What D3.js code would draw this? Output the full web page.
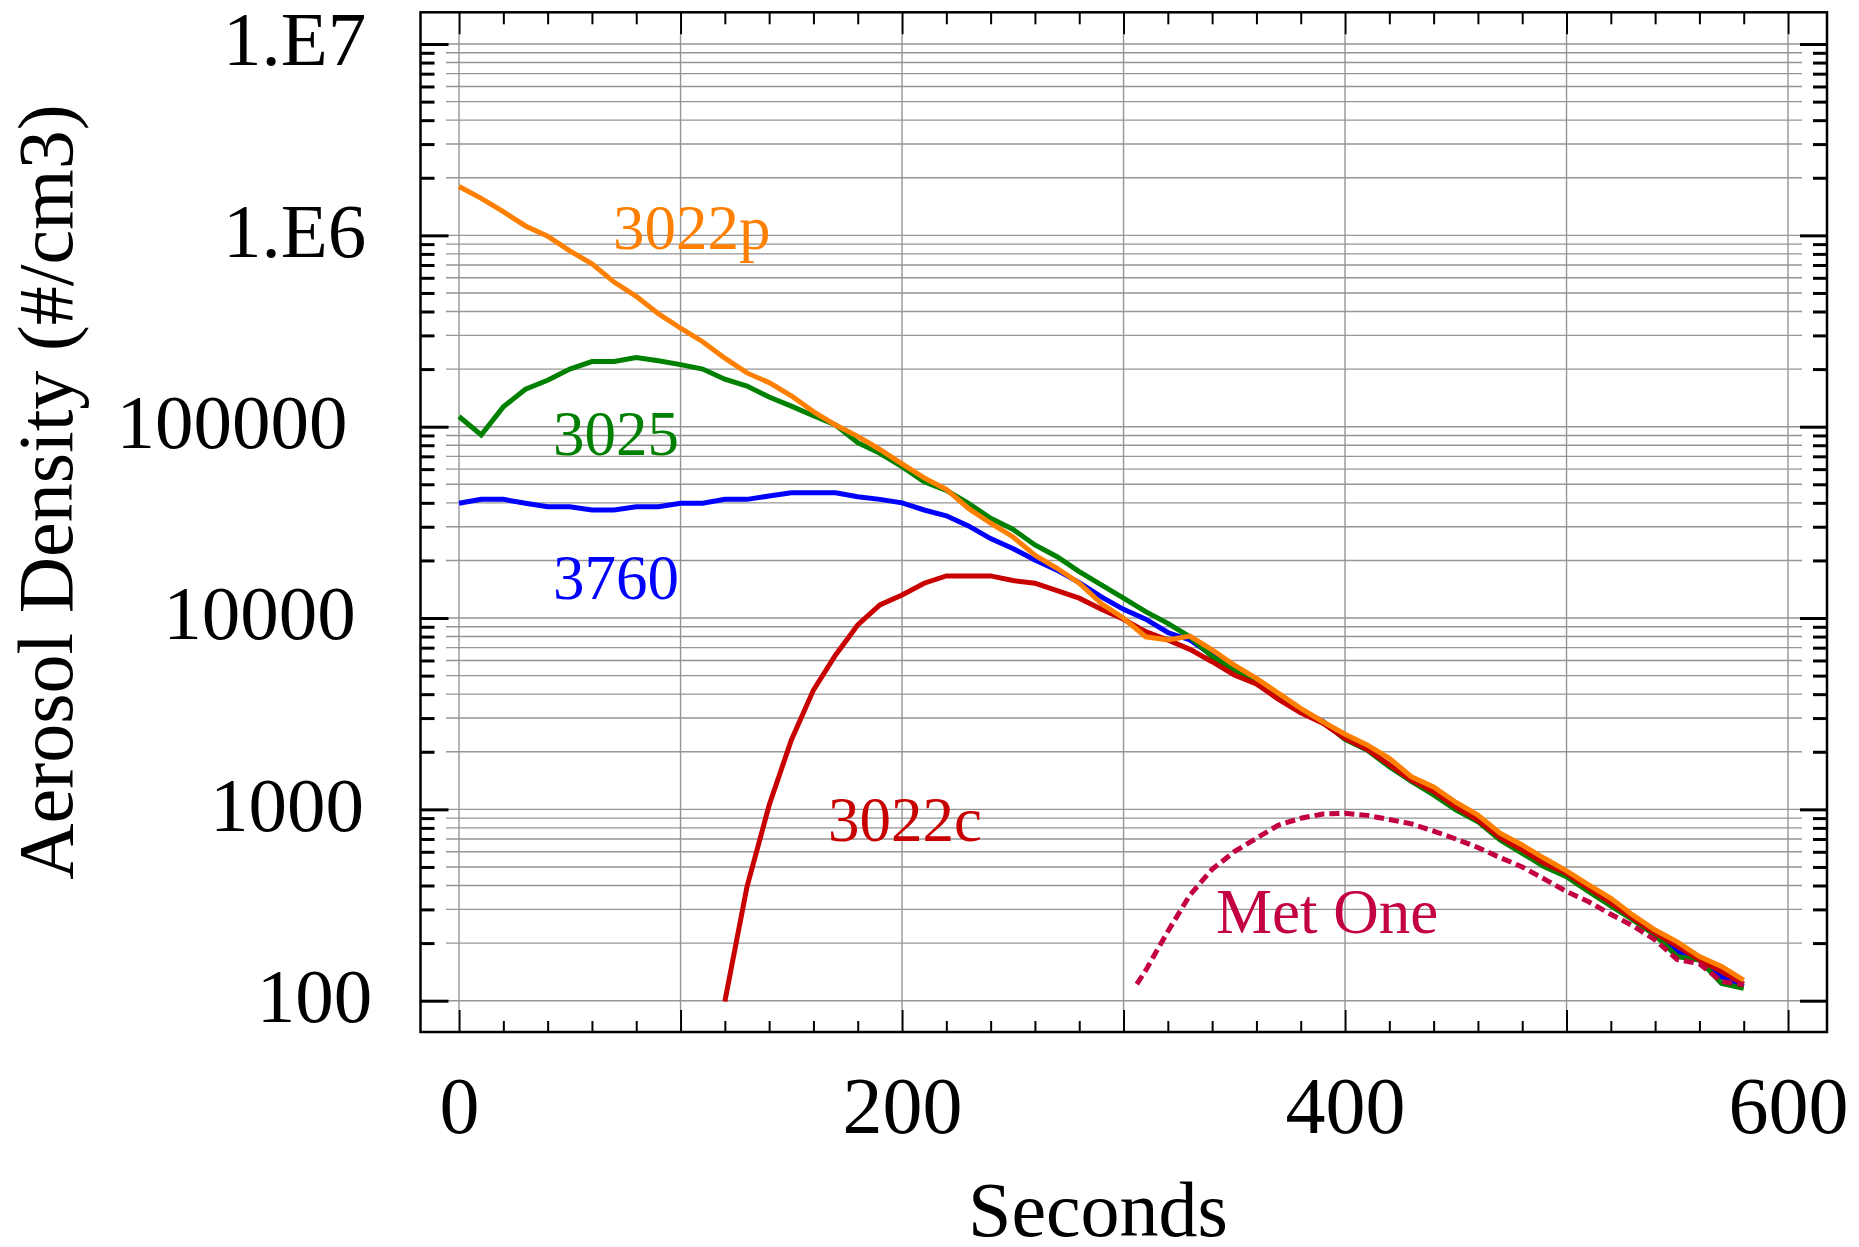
<!DOCTYPE html>
<html>
<head>
<meta charset="utf-8">
<script src="https://cdn.jsdelivr.net/npm/d3@7"></script>
<style>
  body { margin: 0; background: #fff; }
  svg { display: block; font-family: "Liberation Serif", "Times New Roman", serif; }
</style>
</head>
<body>
<div id="canvas"></div>
<script>
var seconds = [0, 10, 20, 30, 40, 50, 60, 70, 80, 90, 100, 110, 120, 130, 140, 150, 160, 170, 180, 190,
               200, 210, 220, 230, 240, 250, 260, 270, 280, 290, 300, 310, 320, 330, 340, 350, 360, 370, 380, 390,
               400, 410, 420, 430, 440, 450, 460, 470, 480, 490, 500, 510, 520, 530, 540, 550, 560, 570, 580];

var density3022p = [1.80e6, 1.56e6, 1.33e6, 1.12e6, 9.9e5, 8.3e5, 7.1e5, 5.7e5, 4.8e5, 3.9e5,
                    3.27e5, 2.78e5, 2.28e5, 1.91e5, 1.70e5, 1.45e5, 1.20e5, 1.02e5, 8.9e4, 7.6e4,
                    6.4e4, 5.4e4, 4.7e4, 3.74e4, 3.13e4, 2.66e4, 2.13e4, 1.82e4, 1.52e4, 1.19e4,
                    9970, 7980, 7680, 8050, 6810, 5680, 4840, 4040, 3370, 2870,
                    2470, 2170, 1850, 1480, 1310, 1090, 934, 750, 651, 555,
                    477, 403, 343, 280, 234, 203, 170, 151, 128];

var density3025 = [1.13e5, 9.05e4, 1.27e5, 1.57e5, 1.75e5, 2.0e5, 2.19e5, 2.19e5, 2.30e5, 2.21e5,
                   2.11e5, 2.0e5, 1.77e5, 1.63e5, 1.43e5, 1.28e5, 1.14e5, 1.02e5, 8.25e4, 7.26e4,
                   6.18e4, 5.16e4, 4.65e4, 3.98e4, 3.32e4, 2.91e4, 2.41e4, 2.09e4, 1.75e4, 1.49e4,
                   1.27e4, 1.08e4, 9380, 7980, 6280, 5350, 4740, 3880, 3300, 2870,
                   2320, 2040, 1670, 1400, 1190, 993, 862, 692, 589, 501,
                   445, 371, 313, 264, 220, 170, 163, 123, 116];

var density3760 = [3.98e4, 4.17e4, 4.17e4, 3.98e4, 3.82e4, 3.82e4, 3.67e4, 3.67e4, 3.82e4, 3.82e4,
                   3.98e4, 3.98e4, 4.17e4, 4.17e4, 4.34e4, 4.52e4, 4.52e4, 4.52e4, 4.30e4, 4.17e4,
                   4.0e4, 3.67e4, 3.42e4, 3.03e4, 2.6e4, 2.31e4, 2.01e4, 1.78e4, 1.53e4, 1.29e4,
                   1.11e4, 9870, 8400, 7680, 6400, 5400, 4750, 3900, 3320, 2880,
                   2340, 2050, 1680, 1410, 1200, 1000, 870, 700, 595, 505,
                   454, 379, 323, 266, 223, 180, 163, 133, 119];

var seconds3022c = [120, 130, 140, 150, 160, 170, 180, 190, 200, 210, 220, 230, 240, 250, 260, 270, 280, 290,
                    300, 310, 320, 330, 340, 350, 360, 370, 380, 390, 400, 410, 420, 430, 440, 450, 460, 470,
                    480, 490, 500, 510, 520, 530, 540, 550, 560, 570, 580];

var density3022c = [99, 394, 1050, 2300, 4200, 6410, 9200, 1.17e4, 1.32e4, 1.52e4, 1.66e4, 1.66e4, 1.66e4, 1.57e4,
                    1.52e4, 1.39e4, 1.27e4, 1.11e4, 9850, 8490, 7680, 6860, 5910, 5040, 4520, 3760, 3200, 2820,
                    2350, 2060, 1710, 1420, 1240, 1030, 880, 714, 614, 523, 463, 387, 325, 270, 226, 193,
                    164, 142, 122];

var secondsMetOne = [306, 310, 320, 330, 340, 350, 360, 370, 380, 390, 400, 410, 420, 430, 440, 450, 460, 470,
                     480, 490, 500, 510, 520, 530, 540, 550, 560, 570, 580];

var densityMetOne = [122, 144, 230, 357, 486, 601, 706, 828, 898, 946, 953, 930, 885, 840, 770, 700, 632, 560,
                     500, 432, 372, 329, 283, 246, 208, 164, 156, 126, 121];

var seriesNames = ['3760', '3025', '3022c', '3022p', 'Met One'];

var yTickValues = [100, 1000, 10000, 100000, 1000000, 10000000],
    yTickLabels = ['100', '1000', '10000', '100000', '1.E6', '1.E7'],
    xTickValues = [0, 200, 400, 600];

(function(d3){

  var margin = {top: 12.3, right: 32, bottom: 215, left: 420.5},
      canvas_d = {width: 1859, height: 1247},
      chart_d = {
        width: canvas_d.width - margin.left - margin.right,
        height: canvas_d.height - margin.top - margin.bottom
      },
      x = d3.scaleLinear().domain([-17.4, 617.6]).range([0, chart_d.width]),
      y = d3.scaleLog().domain([68.6, 1.465e7]).range([chart_d.height, 0]),
      canvas,
      chart;

  var series = [
    {name: seriesNames[0], xs: seconds,       ys: density3760,   color: '#0000ff'},
    {name: seriesNames[1], xs: seconds,       ys: density3025,   color: '#008000'},
    {name: seriesNames[2], xs: seconds3022c,  ys: density3022c,  color: '#c80000'},
    {name: seriesNames[3], xs: seconds,       ys: density3022p,  color: '#ff8000'},
    {name: seriesNames[4], xs: secondsMetOne, ys: densityMetOne, color: '#c20042', dash: '10,5'}
  ];

  // where the inline names sit (pixels inside the chart)
  var labelPos = {
    '3022p':   [192.5, 236.7],
    '3025':    [132.5, 442.7],
    '3760':    [132.5, 586.7],
    '3022c':   [407.5, 828.7],
    'Met One': [795.5, 920.7]
  };

  var yMinor = y.ticks().filter(function(d){ return d >= 100 && d <= 1e7 && yTickValues.indexOf(d) < 0; }),
      yAll = y.ticks().filter(function(d){ return d >= 100 && d <= 1e7; }),
      xMinor = d3.range(0, 601, 20).filter(function(d){ return d % 100 !== 0; }),
      xMajor = [0, 100, 200, 300, 400, 500, 600];


  /**
   * Draw canvas.
   */
  canvas = d3.select('#canvas').append('svg')
      .attr('width', canvas_d.width)
      .attr('height', canvas_d.height);

  chart = canvas.append('g')
      .attr('transform', 'translate(' + margin.left + ',' + margin.top + ')');


  /**
   * Grid.
   */
  chart.append('g').selectAll('line')
      .data(yAll)
    .enter().append('line')
      .attr('x1', 25.5).attr('x2', chart_d.width - 25)
      .attr('y1', function(d){ return y(d); })
      .attr('y2', function(d){ return y(d); })
      .attr('stroke', '#959595')
      .attr('stroke-width', 1.4);

  chart.append('g').selectAll('line')
      .data(xMajor)
    .enter().append('line')
      .attr('y1', 22).attr('y2', chart_d.height - 22)
      .attr('x1', function(d){ return x(d); })
      .attr('x2', function(d){ return x(d); })
      .attr('stroke', '#959595')
      .attr('stroke-width', 1.4);


  /**
   * Axes (ticks point inward on all four sides).
   */
  function styleAxis(g, w) {
    g.select('.domain').remove();
    g.selectAll('line').attr('stroke', '#000').attr('stroke-width', w);
    g.selectAll('text').attr('fill', '#000');
  }

  var yAxisG = chart.append('g')
      .call(d3.axisLeft(y).tickValues(yTickValues).tickSize(-28).tickPadding(0)
        .tickFormat(function(d, i){ return yTickLabels[i]; }))
      .call(styleAxis, 3);
  yAxisG.selectAll('text')
      .attr('font-family', '"Liberation Serif", "Times New Roman", serif')
      .attr('font-size', 77)
      .attr('dy', '0.27em')
      .each(function(){
        var w = this.getComputedTextLength();
        d3.select(this).attr('x', -23.5 - 0.214 * w);
      });

  chart.append('g')
      .call(d3.axisLeft(y).tickValues(yMinor).tickSize(-14).tickFormat(''))
      .call(styleAxis, 3);

  chart.append('g')
      .attr('transform', 'translate(' + chart_d.width + ',0)')
      .call(d3.axisRight(y).tickValues(yTickValues).tickSize(-27).tickFormat(''))
      .call(styleAxis, 3);

  chart.append('g')
      .attr('transform', 'translate(' + chart_d.width + ',0)')
      .call(d3.axisRight(y).tickValues(yMinor).tickSize(-14).tickFormat(''))
      .call(styleAxis, 3);

  chart.append('g')
      .attr('transform', 'translate(0,' + chart_d.height + ')')
      .call(d3.axisBottom(x).tickValues(xMajor).tickSize(-22).tickPadding(44)
        .tickFormat(function(d){ return xTickValues.indexOf(d) >= 0 ? d : ''; }))
      .call(styleAxis, 2)
      .selectAll('text')
      .attr('font-family', '"Liberation Serif", "Times New Roman", serif')
      .attr('font-size', 80);

  chart.append('g')
      .attr('transform', 'translate(0,' + chart_d.height + ')')
      .call(d3.axisBottom(x).tickValues(xMinor).tickSize(-11).tickFormat(''))
      .call(styleAxis, 2);

  chart.append('g')
      .call(d3.axisTop(x).tickValues(xMajor).tickSize(-22).tickFormat(''))
      .call(styleAxis, 2);

  chart.append('g')
      .call(d3.axisTop(x).tickValues(xMinor).tickSize(-12).tickFormat(''))
      .call(styleAxis, 2);


  /**
   * Lines.
   */
  var line = d3.line()
      .x(function(d){ return x(d[0]); })
      .y(function(d){ return y(d[1]); });

  chart.append('g').selectAll('path')
      .data(series)
    .enter().append('path')
      .attr('d', function(s){ return line(d3.zip(s.xs, s.ys)); })
      .attr('fill', 'none')
      .attr('stroke', function(s){ return s.color; })
      .attr('stroke-width', 5)
      .attr('stroke-dasharray', function(s){ return s.dash || null; });

  chart.append('g').selectAll('text')
      .data(series)
    .enter().append('text')
      .attr('x', function(s){ return labelPos[s.name][0]; })
      .attr('y', function(s){ return labelPos[s.name][1]; })
      .attr('fill', function(s){ return s.color; })
      .attr('font-size', 63)
      .text(function(s){ return s.name; });


  /**
   * Frame and titles.
   */
  chart.append('rect')
      .attr('width', chart_d.width)
      .attr('height', chart_d.height)
      .attr('fill', 'none')
      .attr('stroke', '#000')
      .attr('stroke-width', 2.5);

  canvas.append('text')
      .attr('x', 1098).attr('y', 1236)
      .attr('text-anchor', 'middle')
      .attr('font-size', 78)
      .text('Seconds');

  canvas.append('text')
      .attr('transform', 'translate(72,492) rotate(-90)')
      .attr('text-anchor', 'middle')
      .attr('font-size', 78)
      .text('Aerosol Density (#/cm3)');

})(d3);
</script>
</body>
</html>
